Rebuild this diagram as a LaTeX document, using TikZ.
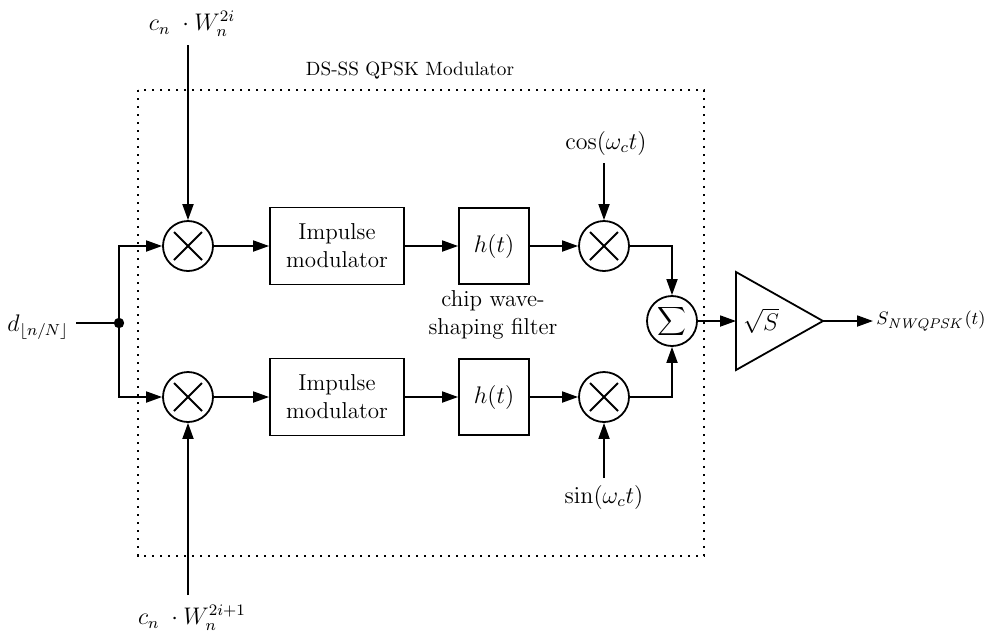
\documentclass[tikz,border=0pt]{standalone}
\usetikzlibrary{arrows.meta}
\begin{document}
\begin{tikzpicture}[x=0.5pt,y=-0.5pt,
  every node/.style={font=\fontsize{11.5}{14}\selectfont},
  lw/.style={line width=0.9pt},
  arr/.style={lw,-{Triangle[length=8pt,width=5.5pt]}},
  mult/.style={circle,draw,lw,minimum size=25pt,inner sep=0pt,
    path picture={\draw[lw] ([shift={(-7pt,-7pt)}]path picture bounding box.center) -- ([shift={(7pt,7pt)}]path picture bounding box.center);
                  \draw[lw] ([shift={(-7pt,7pt)}]path picture bounding box.center) -- ([shift={(7pt,-7pt)}]path picture bounding box.center);}},
  summ/.style={circle,draw,lw,minimum size=25pt,inner sep=0pt},
  impbox/.style={draw,lw,minimum width=67pt,minimum height=38.5pt,align=center,inner sep=1pt},
  hbox/.style={draw,lw,minimum width=35pt,minimum height=38pt,inner sep=1pt},
  lbl/.style={inner sep=1pt,font=\fontsize{12}{14}\selectfont},
  dotbox/.style={line width=1.2pt,dash pattern=on 1.2pt off 2.8pt}
]
\fill[white] (0,0) rectangle (985,639);
\useasboundingbox (0,0) rectangle (985,639);

% modulator frame
\draw[dotbox] (138,90) rectangle (704,556);
\node[font=\fontsize{9.6}{12}\selectfont] (title) at (410,71) {DS-SS QPSK Modulator};

% upper branch
\node[mult] (m1) at (188,246) {};
\node[impbox] (im1) at (337,246) {Impulse\\modulator};
\node[hbox] (h1) at (494,246) {$h(t)$};
\node[mult] (m3) at (604,246) {};

% lower branch
\node[mult] (m2) at (188,397) {};
\node[impbox] (im2) at (337,397) {Impulse\\modulator};
\node[hbox] (h2) at (494,397) {$h(t)$};
\node[mult] (m4) at (604,397) {};

% summer and amplifier
\node[summ] (sum) at (672,321) {$\displaystyle\sum$};
\coordinate (ampin) at (736,321);
\coordinate (ampout) at (823,321);
\draw[lw] (736,272) -- (ampout) -- (736,370) -- cycle;
\node (amp) at (761,321) {$\sqrt{S}$};

% labels
\node[lbl] (cin1) at (192,24) {$c_n\;\cdot W_n^{2i}$};
\coordinate (cin1s) at (188,45);
\node[lbl] (cin2) at (192,618) {$c_n\;\cdot W_n^{2i+1}$};
\coordinate (cin2s) at (188,595);
\node[lbl] (cos) at (606,143) {$\cos(\omega_c t)$};
\coordinate (coss) at (604,163);
\node[lbl] (sin) at (604,497) {$\sin(\omega_c t)$};
\coordinate (sins) at (604,478);
\node[lbl] (din) at (38,327) {$d_{\lfloor n/N\rfloor}$};
\coordinate (dins) at (76,323);
\node[inner sep=0pt,anchor=west,font=\fontsize{9.4}{12}\selectfont] (out) at (876,321) {$S_{\mathit{NWQPSK}}(t)$};
\coordinate (oute) at (873,321);
\node[align=center] (chip) at (493,315) {chip wave-\\shaping filter};

% fork
\coordinate (fork) at (119,323);
\fill (fork) circle (2.6pt);
\draw[lw] (dins) -- (fork);
\draw[arr] (fork) |- (m1.west);
\draw[arr] (fork) |- (m2.west);

% connectors
\draw[arr] (cin1s) -- (m1.north);
\draw[arr] (cin2s) -- (m2.south);
\draw[arr] (coss) -- (m3.north);
\draw[arr] (sins) -- (m4.south);
\draw[arr] (m1) -- (im1);
\draw[arr] (im1) -- (h1);
\draw[arr] (h1) -- (m3);
\draw[arr] (m2) -- (im2);
\draw[arr] (im2) -- (h2);
\draw[arr] (h2) -- (m4);
\draw[arr] (m3.east) -| (sum.north);
\draw[arr] (m4.east) -| (sum.south);
\draw[arr] (sum.east) -- (ampin);
\draw[arr] (ampout) -- (oute);
\end{tikzpicture}
\end{document}
